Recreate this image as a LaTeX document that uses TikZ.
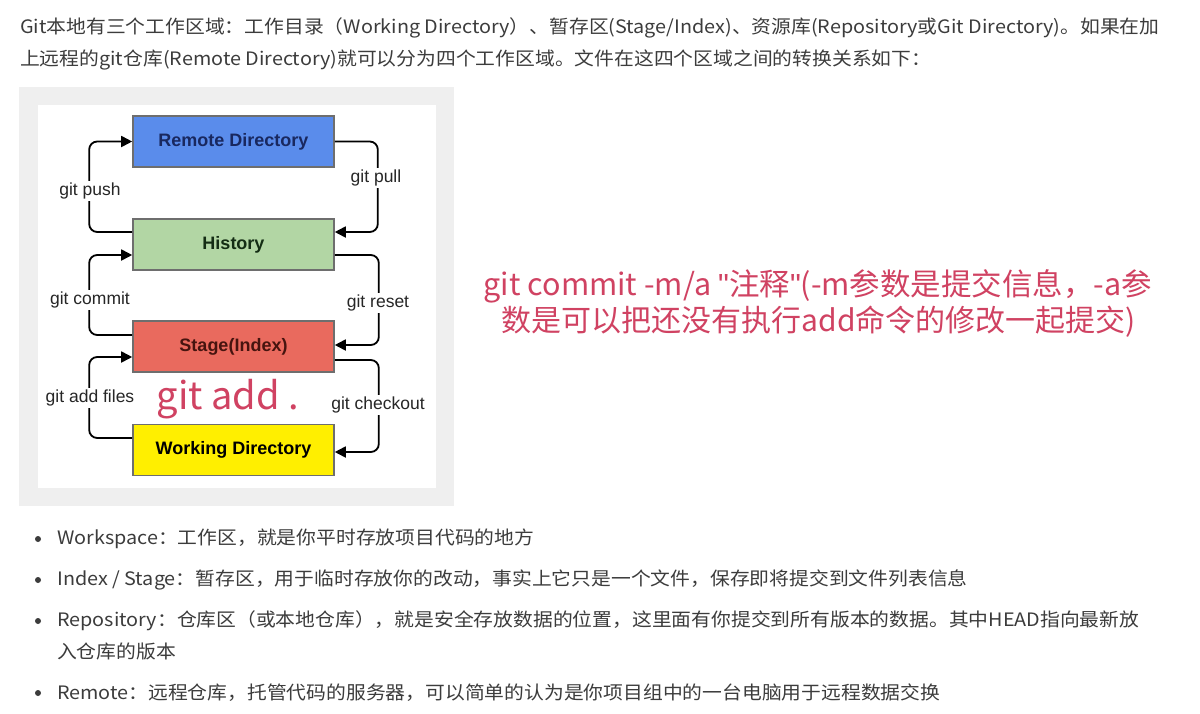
\documentclass[tikz,border=0pt]{standalone}
\usepackage{fontspec}
\setmainfont{Noto Sans CJK SC}[FakeStretch=1.07]
\newfontfamily\redfont{Noto Sans CJK SC}
\newfontfamily\arialfont{Liberation Sans}
\usetikzlibrary{arrows.meta}
\definecolor{bodytxt}{HTML}{3C3C3C}
\definecolor{redtxt}{HTML}{D04262}
\definecolor{remotefill}{HTML}{5A8CEB}
\definecolor{historyfill}{HTML}{B2D6A4}
\definecolor{stagefill}{HTML}{E96A5E}
\definecolor{workfill}{HTML}{FFEF00}
\definecolor{boxline}{HTML}{6E6E6E}
\definecolor{framegray}{HTML}{EFEFEF}
\tikzset{
  para/.style={anchor=west, inner sep=0pt, text=bodytxt, font=\fontsize{18.5}{20}\selectfont},
  areabox/.style={draw=boxline, line width=1.6pt, minimum width=201pt, minimum height=51pt, inner sep=0pt, font=\arialfont\bfseries\fontsize{18}{20}\selectfont},
  conn/.style={line width=1.8pt, rounded corners=8pt, -{Triangle[length=11pt,width=11pt]}},
  cmdlabel/.style={fill=white, inner sep=1.5pt, font=\arialfont\fontsize{17.5}{20}\selectfont, text=black!85},
  redlabel/.style={inner sep=0pt, text=redtxt},
  bulletdot/.style={circle, fill=bodytxt, inner sep=0pt, minimum size=6pt}
}
\begin{document}
\begin{tikzpicture}[x=1pt,y=-1pt]
\useasboundingbox (0,0) rectangle (1200,713);
\fill[white] (0,0) rectangle (1200,713);

% top paragraph
\node[para] (p1) at (20,28) {Git本地有三个工作区域：工作目录（Working Directory）、暂存区(Stage/Index)、资源库(Repository或Git Directory)。如果在加};
\node[para] (p2) at (20,60) {上远程的git仓库(Remote Directory)就可以分为四个工作区域。文件在这四个区域之间的转换关系如下：};

% picture frame
\fill[framegray] (19,87) rectangle (454,506);
\fill[white] (38,105) rectangle (436,488);

% boxes
\node[areabox, fill=remotefill, text={rgb,255:red,25;green,40;blue,95}] (remote) at (233.5,141.5) {Remote Directory};
\node[areabox, fill=historyfill, text={rgb,255:red,20;green,45;blue,20}] (history) at (233.5,244.5) {History};
\node[areabox, fill=stagefill, text={rgb,255:red,70;green,20;blue,15}] (stage) at (233.5,346.5) {Stage(Index)};
\node[areabox, fill=workfill, text=black] (work) at (233.5,450) {Working Directory};

% left connectors
\draw[conn] ([yshift=12.5pt]history.west) -- ++(-43,0) |- (remote.west);
\draw[conn] ([yshift=11.5pt]stage.west) -- ++(-43,0) |- ([yshift=-10.5pt]history.west);
\draw[conn] ([yshift=12pt]work.west) -- ++(-43,0) |- ([yshift=-10.5pt]stage.west);
% right connectors
\draw[conn] (remote.east) -- ++(43,0) |- ([yshift=12.5pt]history.east);
\draw[conn] ([yshift=-10.5pt]history.east) -- ++(44,0) |- ([yshift=1.5pt]stage.east);
\draw[conn] ([yshift=-13.5pt]stage.east) -- ++(44,0) |- ([yshift=-2pt]work.east);

% labels
\node[cmdlabel] (lpush) at (90,191) {git push};
\node[cmdlabel] (lpull) at (376,178) {git pull};
\node[cmdlabel] (lcommit) at (90,300) {git commit};
\node[cmdlabel] (lreset) at (378,303) {git reset};
\node[cmdlabel] (ladd) at (90,398) {git add files};
\node[cmdlabel] (lcheckout) at (378,405) {git checkout};

% red annotations
\node[redlabel, font=\redfont\fontsize{38}{40}\selectfont] (gitadd) at (228,399) {git add .};
\node[redlabel, font=\redfont\fontsize{30.5}{32}\selectfont] (note1) at (818,286) {git commit -m/a {\arialfont"}注释{\arialfont"}(-m参数是提交信息，-a参};
\node[redlabel, font=\redfont\fontsize{30}{32}\selectfont] (note2) at (819,322) {数是可以把还没有执行add命令的修改一起提交)};

% bullet list
\node[bulletdot] (b1) at (38,539) {};
\node[para] (t1) at (57,539) {Workspace：工作区，就是你平时存放项目代码的地方};
\node[bulletdot] (b2) at (38,580) {};
\node[para] (t2) at (57,580) {Index / Stage：暂存区，用于临时存放你的改动，事实上它只是一个文件，保存即将提交到文件列表信息};
\node[bulletdot] (b3) at (38,621) {};
\node[para] (t3) at (57,621) {Repository：仓库区（或本地仓库），就是安全存放数据的位置，这里面有你提交到所有版本的数据。其中HEAD指向最新放};
\node[para] (t3b) at (57,651) {入仓库的版本};
\node[bulletdot] (b4) at (38,693) {};
\node[para] (t4) at (57,693) {Remote：远程仓库，托管代码的服务器，可以简单的认为是你项目组中的一台电脑用于远程数据交换};
\end{tikzpicture}
\end{document}
